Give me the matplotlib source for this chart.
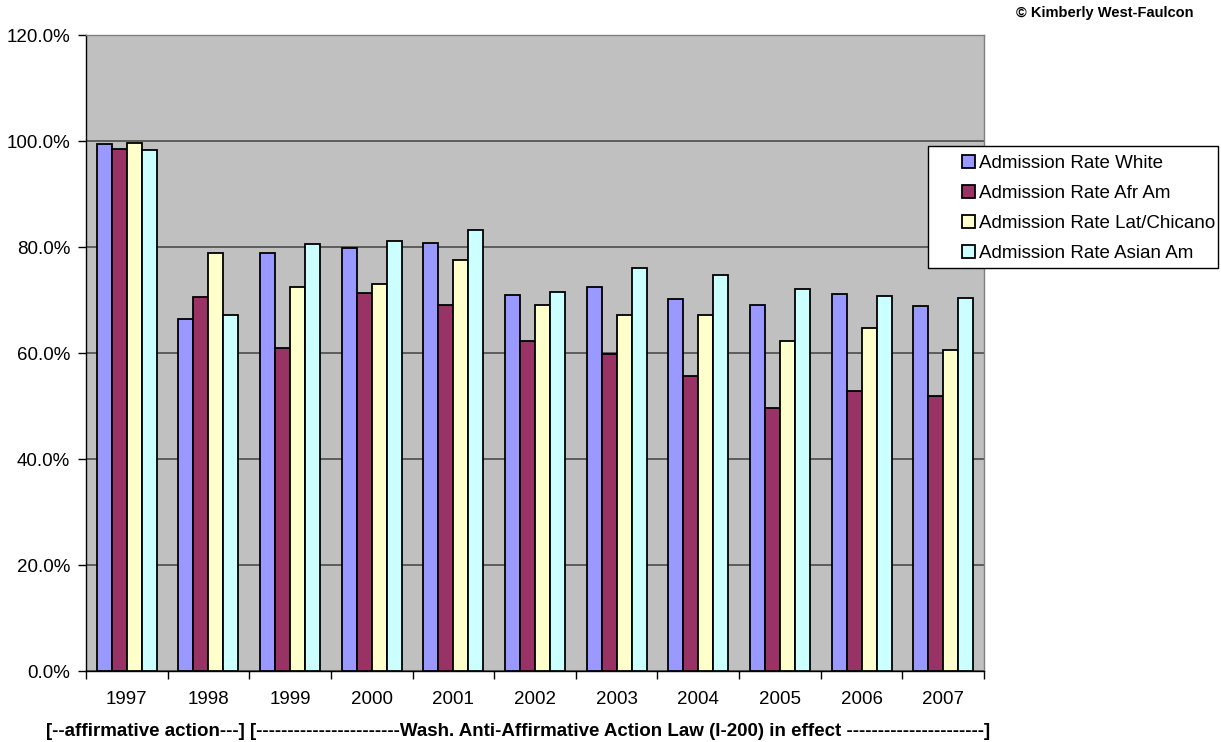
import numpy as np
import matplotlib.pyplot as plt
from matplotlib.patches import Rectangle
from matplotlib.ticker import FuncFormatter, MultipleLocator

plt.rcParams['font.family'] = ['Liberation Sans', 'DejaVu Sans']

years = ['1997', '1998', '1999', '2000', '2001', '2002', '2003', '2004', '2005', '2006', '2007']
white = [99.4, 66.5, 78.9, 79.9, 80.8, 70.9, 72.5, 70.1, 69.1, 71.1, 68.8]
afr_am = [98.4, 70.6, 60.9, 71.4, 69.0, 62.3, 59.8, 55.7, 49.7, 52.9, 51.8]
lat_chicano = [99.7, 78.9, 72.4, 73.0, 77.5, 69.1, 67.2, 67.2, 62.3, 64.7, 60.6]
asian_am = [98.3, 67.2, 80.5, 81.1, 83.3, 71.6, 76.1, 74.8, 72.0, 70.7, 70.3]

series = [
    ("Admission Rate White", white, "#9999FF"),
    ("Admission Rate Afr Am", afr_am, "#993366"),
    ("Admission Rate Lat/Chicano", lat_chicano, "#FFFFCC"),
    ("Admission Rate Asian Am", asian_am, "#CCFFFF"),
]

W, H = 1221, 742
fig = plt.figure(figsize=(W / 100, H / 100), dpi=100)
ax = fig.add_axes([86/W, 1-671/H, (984-86)/W, (671-35)/H])
ax.set_facecolor('#C0C0C0')

x = np.arange(len(years))
w = 0.184
for i, (lab, vals, col) in enumerate(series):
    ax.bar(x + (i - 1.5) * w, vals, w, color=col, edgecolor='black', linewidth=1.3,
           label=lab, zorder=3)

ax.set_xlim(-0.5, len(years) - 0.5)
ax.set_ylim(0, 120)
ax.yaxis.set_major_locator(MultipleLocator(20))
ax.yaxis.set_major_formatter(FuncFormatter(lambda v, p: '{:.1f}%'.format(v)))
ax.grid(axis='y', color='#555555', linewidth=1.3, zorder=1)

ax.set_xticks(x)
ax.set_xticklabels(years)
ax.set_xticks(np.arange(-0.5, len(years)), minor=True)
ax.tick_params(axis='x', which='major', length=0, pad=14.5, labelsize=13.5)
ax.tick_params(axis='x', which='minor', length=6, width=1, direction='out')
ax.tick_params(axis='y', length=6, width=1, direction='out', labelsize=13.5, pad=5.5)

ax.spines['left'].set_color('black')
ax.spines['bottom'].set_color('black')
ax.spines['top'].set_color('#808080')
ax.spines['right'].set_color('#808080')
for s in ax.spines.values():
    s.set_linewidth(1.0)

fig.text(518/W, 1-731/H,
         '[--affirmative action---] [-----------------------Wash. Anti-Affirmative Action Law (I-200) in effect ----------------------]',
         fontsize=13.5, fontweight='bold', ha='center', va='center')

fig.text(1105/W, 1-13/H, '\u00a9 Kimberly West-Faulcon', fontsize=10.5, fontweight='bold',
         ha='center', va='center')

# legend box drawn separately so the keys can sit well inside it
fig.patches.append(Rectangle((928/W, 1-268/H), (1218-928)/W, (268-146)/H,
                             transform=fig.transFigure, facecolor='white',
                             edgecolor='black', linewidth=1.0, zorder=5))
leg = fig.legend(loc='upper left', bbox_to_anchor=(962/W, 1-155/H), fontsize=13.5,
                 frameon=False, handlelength=0.7, handleheight=0.7, handletextpad=0.2,
                 labelspacing=0.69, borderpad=0, borderaxespad=0)
leg.set_zorder(6)

fig.savefig('out.png', dpi=100)
